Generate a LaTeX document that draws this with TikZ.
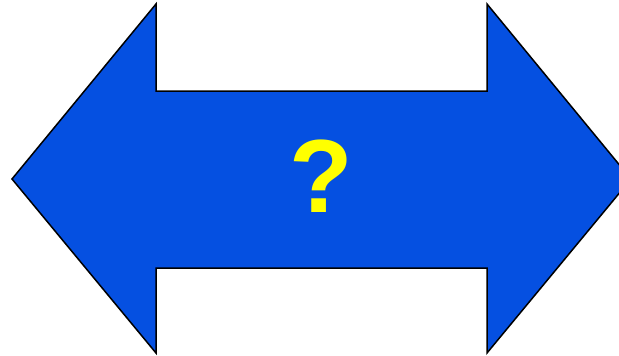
\documentclass[tikz,border=0pt]{standalone}
\usepackage{fontspec}
\setsansfont{Liberation Sans}
\usepackage{xcolor}
\definecolor{ArrowBlue}{RGB}{5, 80, 225}
\definecolor{MarkYellow}{RGB}{255, 255, 0}
\tikzset{
    dblarrow/.style={
        fill=ArrowBlue, draw=black, line width=1.5pt, line join=miter
    },
    qmark/.style={
        text=MarkYellow, font=\sffamily\bfseries\fontsize{104}{104}\selectfont,
        inner sep=0pt
    }
}
\begin{document}
\begin{tikzpicture}[x=1pt, y=-1pt]

    % FRAME
    \useasboundingbox (0,0) rectangle (619,356);
    \clip (0,0) rectangle (619,356);

    % DOUBLE ARROW
    \draw[dblarrow] (12,179) -- (156,4) -- (156,91) -- (487,91) -- (487,4)
        -- (631,179) -- (487,353) -- (487,268) -- (156,268) -- (156,353) -- cycle;

    % QUESTION MARK
    \node[qmark] (question) at (321,176) {?};

\end{tikzpicture}
\end{document}
